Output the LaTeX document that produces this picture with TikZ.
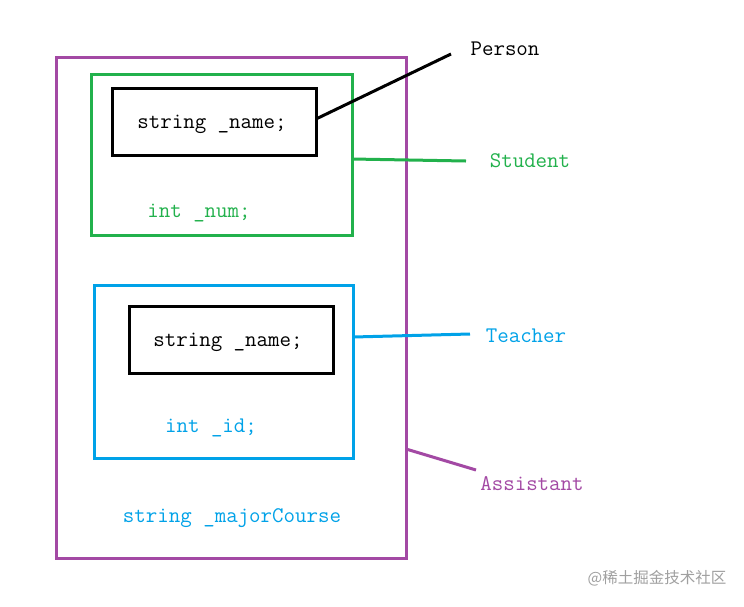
\documentclass[tikz,border=0pt]{standalone}
\usepackage{fontspec}
\newfontfamily\cjk{Noto Sans CJK SC}
\definecolor{pgreen}{RGB}{34,177,76}
\definecolor{pblue}{RGB}{0,162,232}
\definecolor{ppurple}{RGB}{163,73,164}
\definecolor{wmgray}{RGB}{160,160,160}
\begin{document}
\begin{tikzpicture}[x=1pt,y=-1pt,
  boxline/.style={line width=3pt},
  code/.style={font=\ttfamily\fontsize{22.3}{22.3}\selectfont, inner sep=0pt, anchor=center, yshift=-2pt}]
\useasboundingbox[fill=white] (0,0) rectangle (744,606);
% Assistant (outer)
\draw[boxline, ppurple] (56,57) rectangle (406,558);
% Student
\draw[boxline, pgreen] (91,74) rectangle (352,235);
% Person in Student
\draw[boxline, black] (112,88) rectangle (316,155);
\node[code] (name1) at (212,122) {string \_name;};
\node[code, text=pgreen] (num) at (199,211) {int \_num;};
% Teacher
\draw[boxline, pblue] (94,285) rectangle (353,458);
\draw[boxline, black] (129,306) rectangle (333,373);
\node[code] (name2) at (228,340) {string \_name;};
\node[code, text=pblue] (id) at (211,426) {int \_id;};
\node[code, text=pblue] (major) at (232,516) {string \_majorCourse};
% labels
\node[code] (person) at (505,47) {Person};
\node[code, text=pgreen] (student) at (530,159) {Student};
\node[code, text=pblue] (teacher) at (526,334) {Teacher};
\node[code, text=ppurple] (assistant) at (532,482) {Assistant};
% connector endpoints
\coordinate (p0) at (316,119);
\coordinate (p1) at (451,54);
\coordinate (s0) at (352,159);
\coordinate (s1) at (466,161);
\coordinate (t0) at (353,337);
\coordinate (t1) at (470,334);
\coordinate (a0) at (406,449);
\coordinate (a1) at (476,470);
\draw[boxline, black] (p0) -- (p1);
\draw[boxline, pgreen] (s0) -- (s1);
\draw[boxline, pblue] (t0) -- (t1);
\draw[boxline, ppurple] (a0) -- (a1);
% watermark
\node[text=wmgray, font=\cjk\fontsize{15.5}{15.5}\selectfont, inner sep=0pt] (wm) at (657,578) {@稀土掘金技术社区};
\end{tikzpicture}
\end{document}
